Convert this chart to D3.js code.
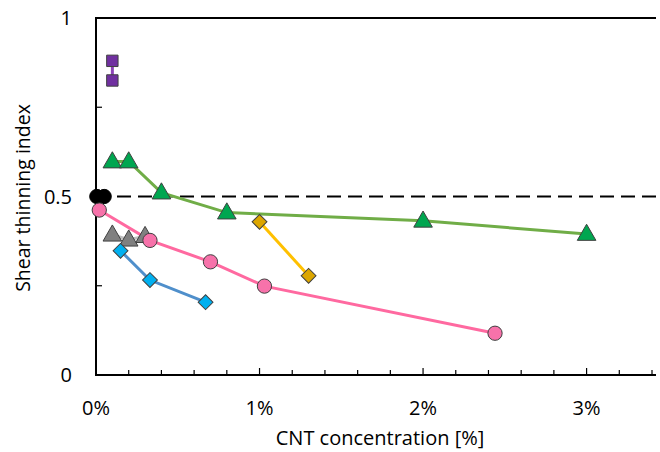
<!DOCTYPE html>
<html>
<head>
<meta charset="utf-8">
<script src="https://cdn.jsdelivr.net/npm/d3@7/dist/d3.min.js"></script>
<style>
  html, body { margin: 0; padding: 0; background: #fff; }
  svg { display: block; }
  text { font-family: "Open Sans", Lato, sans-serif; fill: #000; }
</style>
</head>
<body>
<svg id="chart" width="660" height="452"></svg>
<script>
// ---- data (CNT concentration in %, shear thinning index) ----
const purpleX = [0.1, 0.1];
const purpleY = [0.88, 0.825];
const blackX = [0.005, 0.05];
const blackY = [0.5, 0.5];
const greenX = [0.1, 0.2, 0.4, 0.8, 2.0, 3.0];
const greenY = [0.598, 0.598, 0.511, 0.455, 0.432, 0.395];
const grayX = [0.1, 0.2, 0.3];
const grayY = [0.393, 0.379, 0.389];
const pinkX = [0.02, 0.33, 0.7, 1.03, 2.44];
const pinkY = [0.462, 0.377, 0.317, 0.249, 0.117];
const blueX = [0.15, 0.33, 0.67];
const blueY = [0.348, 0.266, 0.204];
const yellowX = [1.0, 1.3];
const yellowY = [0.429, 0.278];
const xTickValues = [0, 1, 2, 3];
const xTickLabels = ["0%", "1%", "2%", "3%"];
const yTickValues = [0, 0.5, 1];
const yTickLabels = ["0", "0.5", "1"];
const referenceY = 0.5;

const series = [
  { xs: purpleX, ys: purpleY, shape: "square", fill: "#7030A0", line: "#8E44B8" },
  { xs: blackX, ys: blackY, shape: "circle", fill: "#000000", line: "#000000" },
  { xs: greenX, ys: greenY, shape: "triangle", fill: "#00A650", line: "#70AD47" },
  { xs: grayX, ys: grayY, shape: "triangle", fill: "#808080", line: "#BFBFBF" },
  { xs: pinkX, ys: pinkY, shape: "circle", fill: "#F772AA", line: "#FF69A0" },
  { xs: blueX, ys: blueY, shape: "diamond", fill: "#00B0F0", line: "#4F8FCB" },
  { xs: yellowX, ys: yellowY, shape: "diamond", fill: "#DCA600", line: "#FFC000" }
];

const svg = d3.select("#chart");
const x = d3.scaleLinear().domain([0, 3.4]).range([96, 652]);
const y = d3.scaleLinear().domain([0, 1]).range([375, 18]);

// top border
svg.append("line").attr("x1", x(0)).attr("x2", 656).attr("y1", y(1)).attr("y2", y(1))
  .attr("stroke", "#000").attr("stroke-width", 2);

// x axis
const xMinor = d3.range(0, 3.41, 0.2).map(v => +v.toFixed(2)).filter(v => v > 0);
const gx = svg.append("g").attr("transform", `translate(0,${y(0)})`);
gx.append("line").attr("x1", x(0) - 1).attr("x2", 656).attr("y1", 0).attr("y2", 0)
  .attr("stroke", "#000").attr("stroke-width", 2);
gx.selectAll("line.tk").data(xMinor).enter().append("line").attr("class", "tk")
  .attr("x1", d => x(d)).attr("x2", d => x(d)).attr("y1", 0)
  .attr("y2", d => (Math.abs(d - Math.round(d)) < 1e-6) ? -7 : -5)
  .attr("stroke", "#000").attr("stroke-width", 1.2);
gx.selectAll("text").data(xTickValues).enter().append("text")
  .attr("x", d => x(d)).attr("y", 40).attr("text-anchor", "middle")
  .style("font-size", "20px").text((d, i) => xTickLabels[i]);

// y axis
const gy = svg.append("g").attr("transform", `translate(${x(0)},0)`);
gy.append("line").attr("x1", 0).attr("x2", 0).attr("y1", y(1) - 1).attr("y2", y(0) + 1)
  .attr("stroke", "#000").attr("stroke-width", 2);
gy.selectAll("line.tk").data([0.25, 0.75]).enter().append("line").attr("class", "tk")
  .attr("x1", 0).attr("x2", 6).attr("y1", d => y(d)).attr("y2", d => y(d))
  .attr("stroke", "#000").attr("stroke-width", 1.2);
gy.selectAll("text").data(yTickValues).enter().append("text")
  .attr("x", -24).attr("y", d => y(d)).attr("dy", "0.35em").attr("text-anchor", "end")
  .style("font-size", "20px").text((d, i) => yTickLabels[i]);

// axis titles
svg.append("text").attr("x", 380).attr("y", 445).attr("text-anchor", "middle")
  .style("font-size", "20px").text("CNT concentration [%]");
svg.append("text").attr("transform", `translate(30,198) rotate(-90)`).attr("text-anchor", "middle")
  .style("font-size", "19.5px").text("Shear thinning index");

// reference dashed line
svg.append("line").attr("x1", x(0)).attr("x2", 656).attr("y1", y(referenceY)).attr("y2", y(referenceY))
  .attr("stroke", "#000").attr("stroke-width", 2).attr("stroke-dasharray", "14,7");

// series lines
const lineGen = d3.line().x(d => x(d[0])).y(d => y(d[1]));
series.forEach(s => {
  const pts = s.xs.map((v, i) => [v, s.ys[i]]);
  svg.append("path").attr("d", lineGen(pts)).attr("fill", "none")
    .attr("stroke", s.line).attr("stroke-width", 3);
});

// markers
const shapes = {
  circle: d3.symbol().type(d3.symbolCircle).size(160),
  square: d3.symbol().type(d3.symbolSquare).size(130),
  triangle: d3.symbol().type(d3.symbolTriangle).size(150),
  diamond: d3.symbol().type(d3.symbolSquare).size(110)
};
series.forEach(s => {
  const pts = s.xs.map((v, i) => [v, s.ys[i]]);
  svg.append("g").selectAll("path").data(pts).enter().append("path")
    .attr("d", shapes[s.shape]())
    .attr("transform", d => `translate(${x(d[0])},${y(d[1]) + (s.shape === "triangle" ? 1 : 0)})` + (s.shape === "diamond" ? " rotate(45)" : ""))
    .attr("fill", s.fill).attr("stroke", s.shape === "circle" && s.fill === "#000000" ? "#000" : "#404040")
    .attr("stroke-width", 1);
});
</script>
</body>
</html>
